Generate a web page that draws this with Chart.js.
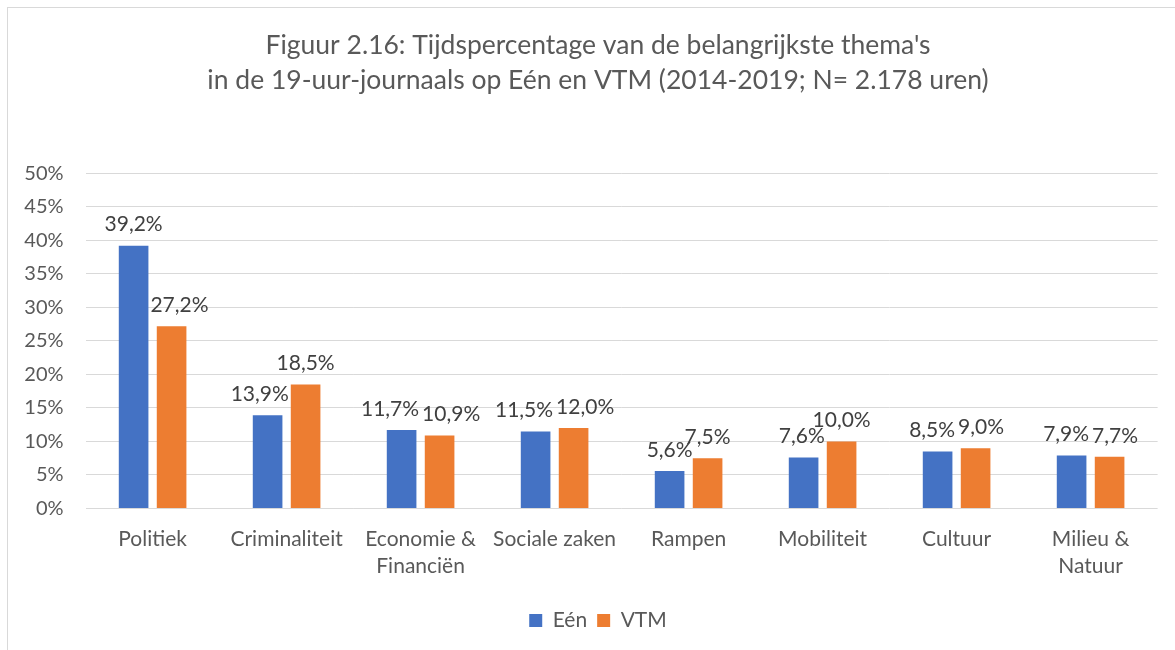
<!DOCTYPE html>
<html><head><meta charset="utf-8">
<script src="https://cdn.jsdelivr.net/npm/chart.js@4.4.1/dist/chart.umd.min.js"></script>
<style>
html,body{margin:0;padding:0;background:#fff;overflow:hidden;width:1175px;height:650px;}
#frame{position:absolute;left:7px;top:7px;width:1300px;height:800px;border:1px solid #d9d9d9;box-sizing:border-box;}
canvas{position:absolute;left:0;top:0;}
</style></head><body>
<div id="frame"></div>
<canvas id="c" width="1196" height="650"></canvas>
<script>
const categories = ['Politiek', 'Criminaliteit', ['Economie &', 'Financiën'], 'Sociale zaken', 'Rampen', 'Mobiliteit', 'Cultuur', ['Milieu &', 'Natuur']];
const seriesNames = ['Eén', 'VTM'];
const eenValues = [39.2, 13.9, 11.7, 11.5, 5.6, 7.6, 8.5, 7.9];
const vtmValues = [27.2, 18.5, 10.9, 12.0, 7.5, 10.0, 9.0, 7.7];
const yMin = 0, yMax = 50, yStep = 5;
const titleLines = ["Figuur 2.16: Tijdspercentage van de belangrijkste thema's", "in de 19-uur-journaals op Eén en VTM (2014-2019; N= 2.178 uren)"];

const FONT = 'Lato';
const fmt = v => v.toFixed(1).replace('.', ',') + '%';

const labelPlugin = {
  id: 'barLabels',
  afterDatasetsDraw(chart) {
    const ctx = chart.ctx;
    ctx.save();
    ctx.font = '21px ' + FONT;
    ctx.fillStyle = '#404040';
    ctx.textAlign = 'center';
    ctx.textBaseline = 'middle';
    const half = 8;
    const m0 = chart.getDatasetMeta(0), m1 = chart.getDatasetMeta(1);
    for (let i = 0; i < m0.data.length; i++) {
      const ea = m0.data[i], eb = m1.data[i];
      const items = [m0, m1].map((m, k) => {
        const el = m.data[i];
        const t = fmt(chart.data.datasets[k].data[i]);
        return { t, x: el.x, y: el.y - 21, w: ctx.measureText(t).width };
      });
      const a = items[0], b = items[1];
      // keep a label clear of the neighbouring taller bar
      if (a.y + half > eb.y + 2 && a.x + a.w / 2 > eb.x - eb.width / 2 - 2) a.x = eb.x - eb.width / 2 - 2 - a.w / 2;
      if (b.y + half > ea.y + 2 && b.x - b.w / 2 < ea.x + ea.width / 2 + 2) b.x = ea.x + ea.width / 2 + 2 + b.w / 2;
      const need = (a.w + b.w) / 2 + 3 - (b.x - a.x);
      if (need > 0 && Math.abs(a.y - b.y) < 12) { a.x -= need / 2; b.x += need / 2; }
      items.forEach(it => ctx.fillText(it.t, it.x, it.y));
    }
    ctx.restore();
  }
};

Chart.defaults.font.family = FONT;
new Chart(document.getElementById('c'), {
  type: 'bar',
  data: {
    labels: categories,
    datasets: [
      { label: seriesNames[0], data: eenValues, backgroundColor: '#4472C4', categoryPercentage: 0.567, barPercentage: 0.78 },
      { label: seriesNames[1], data: vtmValues, backgroundColor: '#ED7D31', categoryPercentage: 0.567, barPercentage: 0.78 }
    ]
  },
  plugins: [labelPlugin],
  options: {
    responsive: false,
    animation: false,
    devicePixelRatio: 1,
    layout: { padding: { left: 0, right: 0, top: 0, bottom: 9 } },
    plugins: {
      title: {
        display: true, text: titleLines, color: '#595959',
        font: { family: FONT, size: 26.5, weight: 'normal', lineHeight: 1.32 },
        padding: { top: 27.5, bottom: 75.8 }
      },
      legend: {
        position: 'bottom',
        labels: { boxWidth: 13, boxHeight: 13, padding: 10, color: '#595959', font: { family: FONT, size: 21 } }
      },
      tooltip: { enabled: false }
    },
    scales: {
      x: {
        grid: { display: false }, border: { display: false },
        ticks: { color: '#595959', font: { family: FONT, size: 21, lineHeight: 1.29 }, padding: 9.5, maxRotation: 0, autoSkip: false },
        afterFit(s) { s.height = 91.5; }
      },
      y: {
        min: yMin, max: yMax,
        ticks: { stepSize: yStep, callback: v => v + '%', color: '#595959', font: { family: FONT, size: 20 }, padding: 22 },
        grid: { color: '#d9d9d9', lineWidth: 1, drawTicks: false },
        border: { display: false },
        afterFit(s) { s.width = 85.6; }
      },
      yRight: {
        position: 'right', display: true, min: yMin, max: yMax,
        ticks: { display: false }, grid: { display: false }, border: { display: false },
        afterFit(s) { s.width = 38.4; }
      }
    }
  }
});
</script>
</body></html>
